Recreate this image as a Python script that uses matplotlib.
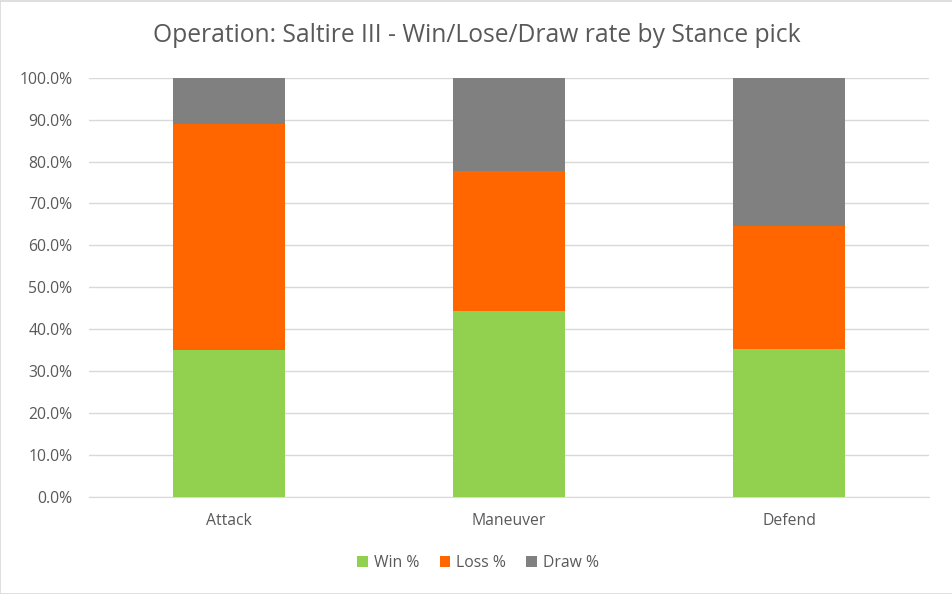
import matplotlib
matplotlib.use("Agg")
import matplotlib.pyplot as plt
from matplotlib.ticker import FuncFormatter
from matplotlib.patches import Rectangle
import numpy as np

categories = ["Attack", "Maneuver", "Defend"]
win = [35.0, 44.3, 35.2]
loss = [54.0, 33.4, 29.5]
draw = [11.0, 22.3, 35.3]
series_names = ["Win %", "Loss %", "Draw %"]
colors = ["#92D050", "#FF6600", "#808080"]

plt.rcParams['font.family'] = ['Open Sans', 'DejaVu Sans']

fig = plt.figure(figsize=(9.53, 5.94), dpi=100)
ax = fig.add_axes([89/953, 1-496.7/594, (929-89)/953, (496.7-77.7)/594])

x = np.arange(len(categories))
bottom = np.zeros(len(categories))
for vals, name, c in zip([win, loss, draw], series_names, colors):
    v = np.array(vals) / 100.0
    ax.bar(x, v, 0.4, bottom=bottom, color=c, label=name, zorder=3)
    bottom += v

ax.set_xlim(-0.5, len(categories) - 0.5)
ax.set_ylim(0, 1.0)
ax.set_yticks(np.arange(0, 1.01, 0.1))
ax.yaxis.set_major_formatter(FuncFormatter(lambda v, p: f"{v*100:.1f}%"))
ax.set_xticks(x)
ax.set_xticklabels(categories)
ax.grid(axis='y', color='#D9D9D9', linewidth=1, zorder=0)
for s in ['top', 'right', 'left']:
    ax.spines[s].set_visible(False)
ax.spines['bottom'].set_color('#D9D9D9')
ax.tick_params(axis='both', length=0, colors='#595959', labelsize=11.3)
ax.tick_params(axis='y', pad=12)
ax.tick_params(axis='x', pad=11.5)

fig.text(0.5, 1-36/594, "Operation: Saltire III - Win/Lose/Draw rate by Stance pick",
         ha='center', va='center', fontsize=17.7, color='#595959')

fig.legend(loc='center', bbox_to_anchor=(478/953, 1-563/594), ncol=3, frameon=False,
           fontsize=11.3, labelcolor='#595959', handlelength=0.7, handleheight=0.7,
           handletextpad=0.35, columnspacing=1.3)

fig.patches.append(Rectangle((0.0005, 0.0008), 0.999, 0.998, transform=fig.transFigure,
                             fill=False, edgecolor='#D9D9D9', linewidth=1.2))

fig.savefig("out.png", dpi=100)
